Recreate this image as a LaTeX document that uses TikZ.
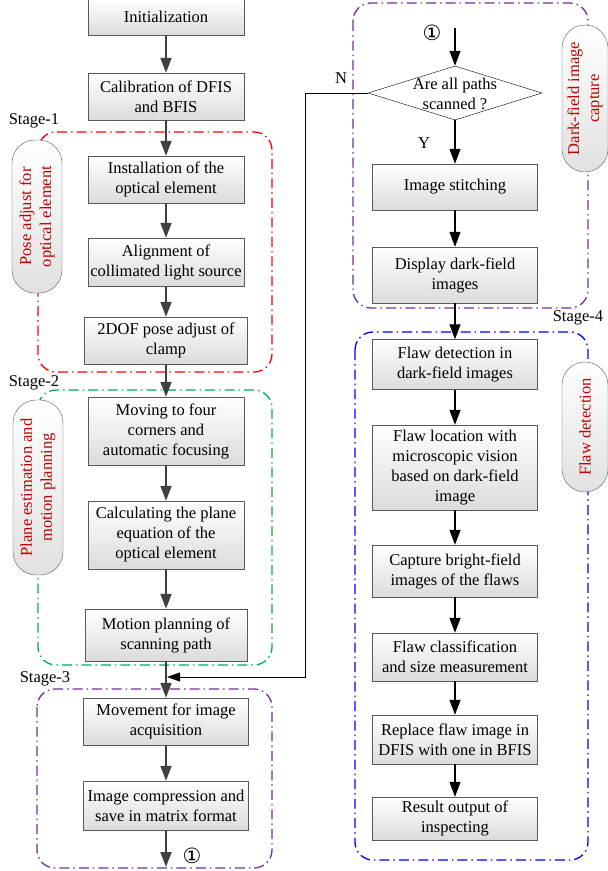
\documentclass[tikz,border=0pt]{standalone}
\usepackage{fontspec}
\setmainfont{Liberation Serif}
\newfontfamily\circfont{DejaVu Sans}
\usepackage{tikz}
\usetikzlibrary{shapes,arrows.meta,calc,positioning,shapes.geometric}
\definecolor{frameRed}{RGB}{255,0,0}
\definecolor{frameGreen}{RGB}{0,176,80}
\definecolor{framePurple}{RGB}{112,48,160}
\definecolor{frameBlue}{RGB}{0,0,255}
\definecolor{pillText}{RGB}{192,0,0}
\tikzset{
  flowbox/.style={
    rectangle,
    draw=black!65, thin,
    top color=white,
    bottom color=black!14,
    align=center,
    inner sep=1pt,
    minimum width=156pt},
  sidepill/.style={
    rectangle,
    rounded corners=23pt,
    draw=black!65, thin,
    top color=white,
    bottom color=black!12,
    text=pillText,
    align=center,
    rotate=90,
    inner sep=1pt},
  decision/.style={
    diamond,
    draw=black, thin,
    fill=white,
    inner sep=0pt,
    minimum width=174pt,
    minimum height=54pt},
  stageframe/.style={rounded corners=18pt, line width=1.3pt,
    dash pattern=on 10pt off 4pt on 1.5pt off 4pt},
  flowline/.style={draw=black!75, line width=1.8pt, -{Triangle[length=15pt,width=11pt]}},
  scanline/.style={draw=black, line width=1.2pt, -{Triangle[length=15pt,width=11pt]}},
  loopline/.style={draw=black, line width=0.9pt, -{Triangle[length=13pt,width=9pt]}},
}

\begin{document}
\begin{tikzpicture}[
    x=1pt, y=-1pt,
    every node/.style={font=\fontsize{16.5}{20}\selectfont},
    stagelabel/.style={inner sep=0pt},
    circlabel/.style={inner sep=0pt, font=\circfont\fontsize{21}{21}\selectfont}
    ]
    \useasboundingbox (0,0) rectangle (608,871);

    % stage frames
    \draw[stageframe, frameRed] (38,132) rectangle (272,372);
    \draw[stageframe, frameGreen] (38,390) rectangle (272,665);
    \draw[stageframe, framePurple] (37,689) rectangle (272,868);
    \draw[stageframe, framePurple] (353,3) rectangle (588,308);
    \draw[stageframe, frameBlue] (355,332) rectangle (588,860);

    \node[stagelabel] (stage1) at (34,121) {Stage-1};
    \node[stagelabel] (stage2) at (34,383) {Stage-2};
    \node[stagelabel] (stage3) at (45,679) {Stage-3};
    \node[stagelabel] (stage4) at (578,318) {Stage-4};

    % side labels
    \node[sidepill, minimum width=153pt, minimum height=50pt] (pose) at (37,216.5)
        {Pose adjust for\\optical element};
    \node[sidepill, minimum width=175pt, minimum height=50pt] (plane) at (38,487.5)
        {Plane estimation and\\motion planning};
    \node[sidepill, minimum width=147pt, minimum height=46pt] (darkcap) at (585,98.5)
        {Dark-field image\\capture};
    \node[sidepill, minimum width=130pt, minimum height=46pt] (flawdet) at (585,427)
        {Flaw detection};

    % left column
    \node[flowbox, minimum height=36pt] (init) at (166,17) {Initialization};
    \node[flowbox, minimum height=47pt] (calib) at (166,96.5) {Calibration of DFIS\\and BFIS};
    \node[flowbox, minimum height=47pt] (install) at (166,179.5) {Installation of the\\optical element};
    \node[flowbox, minimum height=48pt] (align) at (166,262) {Alignment of\\collimated light source};
    \node[flowbox, minimum width=163pt, minimum height=47pt] (dof) at (166,340.5) {2DOF pose adjust of\\clamp};
    \node[flowbox, minimum height=68pt] (moving) at (166,431) {Moving to four\\corners and\\automatic focusing};
    \node[flowbox, minimum height=68pt] (calc) at (166,535) {Calculating the plane\\equation of the\\optical element};
    \node[flowbox, minimum width=162pt, minimum height=52pt] (motion) at (166,635) {Motion planning of\\scanning path};
    \node[flowbox, minimum width=165pt, minimum height=47pt] (movement) at (166,721.5) {Movement for image\\acquisition};
    \node[flowbox, minimum width=165pt, minimum height=49pt] (compress) at (166,805.5) {Image compression and\\save in matrix format};
    \coordinate (leftend) at (166,867);
    \node[circlabel] (circout) at (192,856) {①};

    % right column
    \coordinate (loopin) at (455,28);
    \node[circlabel] (circin) at (432,33) {①};
    \node[decision] (scan) at (455,93) {};
    \node[align=center, inner sep=0pt] (scantext) at (455,94) {Are all paths\\scanned ?};
    \node[flowbox, minimum width=165pt, minimum height=46pt] (stitch) at (455,187) {Image stitching};
    \node[flowbox, minimum width=165pt, minimum height=56pt] (display) at (455,275) {Display dark-field\\images};
    \node[flowbox, minimum width=165pt, minimum height=50pt] (detect) at (455,364.5) {Flaw detection in\\dark-field images};
    \node[flowbox, minimum width=165pt, minimum height=85pt] (locate) at (455,467.5) {Flaw location with\\microscopic vision\\based on dark-field\\image};
    \node[flowbox, minimum width=165pt, minimum height=52pt] (capture) at (455,571) {Capture bright-field\\images of the flaws};
    \node[flowbox, minimum width=165pt, minimum height=48pt] (classify) at (455,657) {Flaw classification\\and size measurement};
    \node[flowbox, minimum width=165pt, minimum height=49pt] (replace) at (455,739.5) {Replace flaw image in\\DFIS with one in BFIS};
    \node[flowbox, minimum width=165pt, minimum height=43pt] (result) at (455,818.5) {Result output of\\inspecting};

    \node[stagelabel] (nolabel) at (341,78) {N};
    \node[stagelabel] (yeslabel) at (424,143) {Y};

    % arrows left
    \draw[flowline] (init) -- (calib);
    \draw[flowline] (calib) -- (install);
    \draw[flowline] (install) -- (align);
    \draw[flowline] (align) -- (dof);
    \draw[flowline] (dof) -- (moving);
    \draw[flowline] (moving) -- (calc);
    \draw[flowline] (calc) -- (motion);
    \draw[flowline] (motion) -- (movement);
    \draw[flowline] (movement) -- (compress);
    \draw[flowline] (compress) -- (leftend);

    % arrows right
    \draw[scanline] (loopin) -- (scan.north);
    \draw[scanline] (scan.south) -- (stitch);
    \draw[scanline] (stitch) -- (display);
    \draw[scanline] (display) -- (detect);
    \draw[scanline] (detect) -- (locate);
    \draw[scanline] (locate) -- (capture);
    \draw[scanline] (capture) -- (classify);
    \draw[scanline] (classify) -- (replace);
    \draw[scanline] (replace) -- (result);

    % loop back
    \coordinate (backcorner) at (305,677);
    \coordinate (backend) at (167,677);
    \draw[loopline] (scan.west) -| (backcorner) -- (backend);

\end{tikzpicture}
\end{document}
